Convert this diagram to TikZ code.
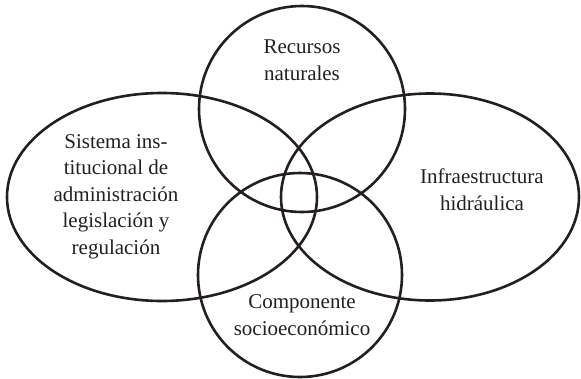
\documentclass[tikz,border=0pt]{standalone}
\usepackage{fontspec}
\setmainfont{Liberation Serif}
\usetikzlibrary{shapes.geometric}
\definecolor{ink}{HTML}{231F20}
\begin{document}
\begin{tikzpicture}[x=1pt,y=-1pt,
  ring/.style={draw=ink,line width=2.6pt,ellipse,inner sep=0pt},
  lbl/.style={text=ink,align=center,anchor=base,inner sep=0pt,
    font=\fontsize{21}{26.5}\selectfont}]
\useasboundingbox (0,0) rectangle (581,378);
\node[ring,minimum width=310pt,minimum height=208pt] (left) at (162,197) {};
\node[ring,minimum width=298pt,minimum height=207pt] (right) at (430,197) {};
\node[ring,minimum width=206pt,minimum height=206pt] (top) at (302,109) {};
\node[ring,minimum width=204pt,minimum height=204pt] (bottom) at (300,275) {};
\node[lbl] (ttop) at (302,80) {Recursos\\naturales};
\node[lbl] (tleft) at (116,254) {Sistema ins-\\titucional de\\administración\\legislación y\\regulación};
\node[lbl] (tright) at (482,210) {Infraestructura\\hidráulica};
\node[lbl] (tbottom) at (302,335) {Componente\\socioeconómico};
\end{tikzpicture}
\end{document}
